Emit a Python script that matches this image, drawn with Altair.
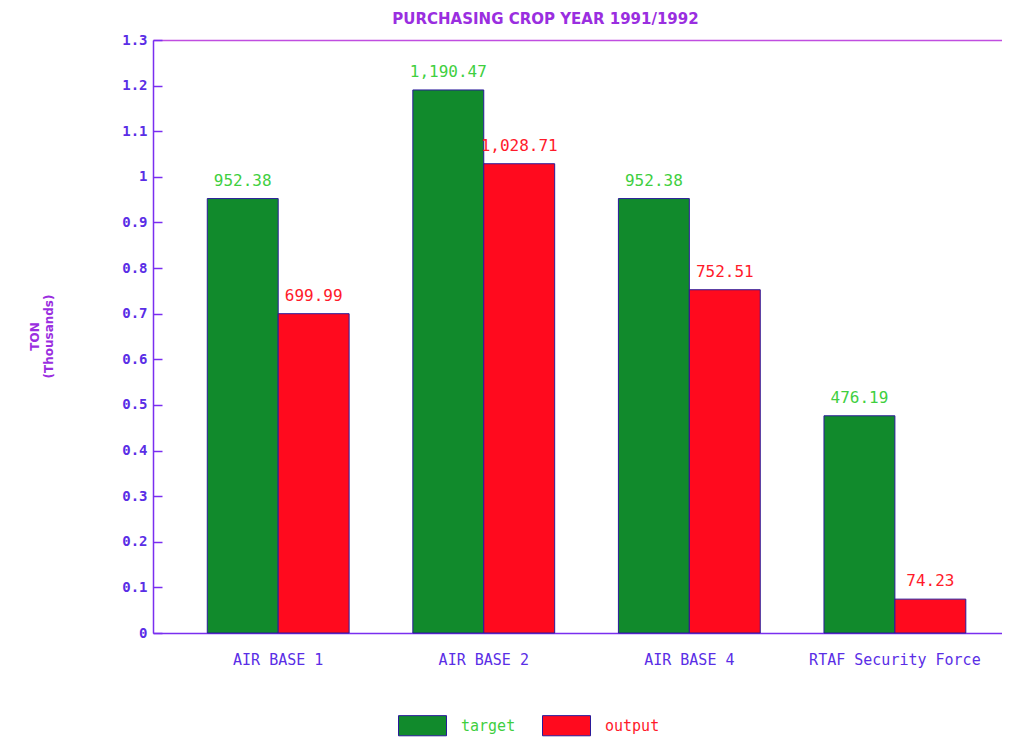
import altair as alt
import pandas as pd

categories = ["AIR BASE 1", "AIR BASE 2", "AIR BASE 4", "RTAF Security Force"]
target = [952.38, 1190.47, 952.38, 476.19]
output = [699.99, 1028.71, 752.51, 74.23]
series = ["target", "output"]
y_ticks = [0, 0.1, 0.2, 0.3, 0.4, 0.5, 0.6, 0.7, 0.8, 0.9, 1.0, 1.1, 1.2, 1.3]

rows = []
for i, c in enumerate(categories):
    rows.append({"cat": c, "series": "target", "value": target[i], "k": target[i] / 1000})
    rows.append({"cat": c, "series": "output", "value": output[i], "k": output[i] / 1000})
df = pd.DataFrame(rows)

AXIS_COL = "#5a2ee6"
TITLE_COL = "#9a2ee0"
FONT = "DejaVu Sans"
MONO = "DejaVu Sans Mono"

x_scale = alt.Scale(paddingInner=0.31, paddingOuter=0.22, align=0.6)
y_scale = alt.Scale(domain=[0, 1.3], nice=False)
color_scale = alt.Scale(domain=series, range=["#118a2c", "#ff0a1e"])

bars = alt.Chart(df).mark_bar(stroke="#2a1a9a", strokeWidth=1).encode(
    x=alt.X("cat:N", sort=categories, scale=x_scale,
            axis=alt.Axis(title=None, ticks=False, labelAngle=0, labelPadding=19,
                          labelFontSize=15, labelColor=AXIS_COL, labelFont=MONO,
                          domainColor="#7a2ef0", domainWidth=1.5)),
    xOffset=alt.XOffset("series:N", sort=series, scale=alt.Scale(paddingInner=0)),
    y=alt.Y("k:Q", scale=y_scale,
            axis=alt.Axis(values=y_ticks, format=".1~f", title=["TON", "(Thousands)"],
                          grid=False, ticks=True, tickSize={"expr": "-9"},
                          tickColor="#7a2ef0", tickWidth=1.5,
                          labelFontSize=14,
                          labelFontWeight="bold", labelColor=AXIS_COL, labelFont=MONO,
                          labelPadding=15, domainColor="#7a2ef0", domainWidth=1.5,
                          titleColor=TITLE_COL, titleFont=FONT, titleFontSize=12,
                          titleFontWeight="bold", titleAngle=-90, titleLineHeight=14,
                          titleX=-119, titleY=296, titleAlign="center",
                          titleBaseline="middle")),
    color=alt.Color("series:N", scale=color_scale,
                    legend=alt.Legend(title=None, orient="none", direction="horizontal",
                                      legendX=245, legendY=661,
                                      symbolType="M-1,-0.42L1,-0.42L1,0.42L-1,0.42Z",
                                      symbolSize=2304, symbolStrokeColor="#2a1a9a",
                                      symbolStrokeWidth=1, symbolOpacity=1,
                                      labelFontSize=15, labelFont=MONO,
                                      labelOffset=14, columnPadding=24,
                                      labelColor={"expr": "datum.value == 'target' ? '#3fcf3f' : '#ff1a2a'"})),
)

labels = alt.Chart(df).mark_text(dy=-18, fontSize=16, font=MONO).encode(
    x=alt.X("cat:N", sort=categories, scale=x_scale,
            axis=alt.Axis(orient="top", title=None, labels=False, ticks=False,
                          domainColor="#c04ee0", domainWidth=1.5)),
    xOffset=alt.XOffset("series:N", sort=series, scale=alt.Scale(paddingInner=0)),
    y=alt.Y("k:Q", scale=y_scale, axis=None),
    text=alt.Text("value:Q", format=",.2f"),
    color=alt.Color("series:N",
                    scale=alt.Scale(domain=series, range=["#3fcf3f", "#ff1a2a"]),
                    legend=None),
)

chart = alt.layer(bars, labels).resolve_scale(color="independent").resolve_axis(
    x="independent", y="independent"
).properties(
    width=849, height=593,
    title=alt.TitleParams("PURCHASING CROP YEAR 1991/1992", fontSize=15, font=FONT,
                          fontWeight="bold", color=TITLE_COL, dx=-32, offset=6),
    autosize=alt.AutoSizeParams(type="none"),
    padding={"left": 145, "top": 32, "right": 0, "bottom": 104},
).configure_view(stroke=None).configure(background="white")

chart.save("out.html", embed_options={"renderer": "svg", "actions": False})
